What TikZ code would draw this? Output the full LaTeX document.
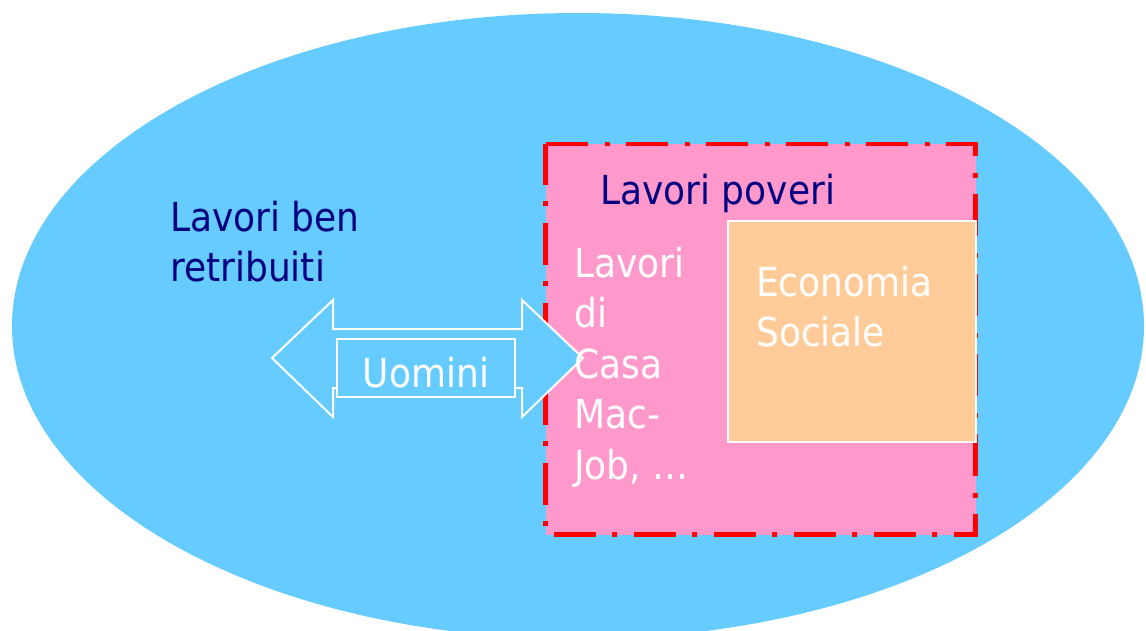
\documentclass[tikz,border=0pt]{standalone}
\usepackage{fontspec}
\setmainfont{DejaVu Sans}[FakeStretch=0.9]
\definecolor{skyfill}{HTML}{66CCFF}
\definecolor{pinkfill}{HTML}{FF99CC}
\definecolor{peachfill}{HTML}{FFCC99}
\definecolor{navytext}{HTML}{000080}
\tikzset{
  bigtext/.style={font=\fontsize{40}{49.5}\selectfont, inner sep=0pt, align=left, anchor=base west},
  darklabel/.style={bigtext, text=navytext},
  lightlabel/.style={bigtext, text=white},
  whiteline/.style={draw=white, line width=2pt},
  dashdotred/.style={draw=red, line width=4.5pt,
    dash pattern=on 42pt off 17pt on 5pt off 16pt},
}
\begin{document}
\begin{tikzpicture}[x=1pt, y=-1pt]
  \useasboundingbox (0,0) rectangle (1146,630);
  \clip (0,0) rectangle (1146,630);

  % outer field: all jobs
  \fill[skyfill] (578,326) ellipse [x radius=566pt, y radius=313pt];

  % poor jobs area with dash-dot border
  \coordinate (ptl) at (545.5,144);
  \coordinate (ptr) at (975.5,144);
  \coordinate (pbr) at (975.5,534.5);
  \coordinate (pbl) at (545.5,534.5);
  \fill[pinkfill] (ptl) rectangle (pbr);
  \draw[dashdotred] (ptl) -- (ptr) -- (pbr) -- (pbl) -- cycle;

  % social economy block
  \fill[peachfill, whiteline] (728,221) rectangle (976,442);

  % two-way arrow
  \filldraw[fill=skyfill, whiteline, line join=miter]
    (272,358) -- (333,300) -- (333,329) -- (522,329) -- (522,300)
    -- (583,358) -- (522,417) -- (522,388) -- (333,388) -- (333,417) -- cycle;

  \node[whiteline, fill=skyfill, inner sep=0pt, minimum width=178pt, minimum height=58pt,
        text height=38pt, text depth=0pt, text=white,
        font=\fontsize{40}{49.5}\selectfont] (uomini) at (426,368) {Uomini};

  % labels (base anchor of a multi-line node sits on its last line)
  \node[darklabel] (benretr) at (170,281) {Lavori ben\\retribuiti};
  \node[darklabel] (poveri) at (600,204) {Lavori poveri};
  \node[lightlabel, font=\fontsize{40}{50.5}\selectfont] (casa) at (574,479)
    {Lavori\\di\\Casa\\Mac-\\Job, …};
  \node[lightlabel] (econ) at (756,346) {Economia\\Sociale};
\end{tikzpicture}
\end{document}
